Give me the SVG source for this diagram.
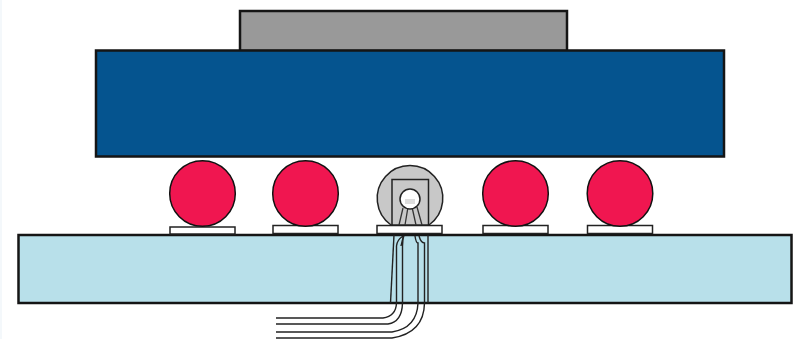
<svg xmlns="http://www.w3.org/2000/svg" width="797" height="339" viewBox="0 0 797 339">
<style>
.ball{fill:#f01650;stroke:#111;stroke-width:1.5}
.pad{fill:#fff;stroke:#222;stroke-width:1.5}
.wire{fill:none;stroke:#222;stroke-width:1.4}
</style>
<rect width="797" height="339" fill="#fff"/>
<rect x="0" y="0" width="2" height="339" fill="#f4f8fb"/>
<g id="die"><rect x="240" y="11" width="327" height="40" fill="#999" stroke="#151515" stroke-width="2.5"/></g>
<g id="substrate"><rect x="96" y="50.500" width="628" height="106" fill="#05548f" stroke="#151515" stroke-width="2.500"/></g>
<g id="board"><rect x="18.500" y="235" width="773" height="68" fill="#b8e0ea" stroke="#151515" stroke-width="2.500"/></g>
<g id="pad1"><rect x="170" y="227" width="65" height="7" class="pad"/></g>
<g id="pad2"><rect x="273" y="225.500" width="65" height="8" class="pad"/></g>
<g id="pad3"><rect x="377" y="225.500" width="65" height="8" class="pad"/></g>
<g id="pad4"><rect x="483" y="225.500" width="65" height="8" class="pad"/></g>
<g id="pad5"><rect x="587.500" y="225.500" width="65" height="8" class="pad"/></g>
<g id="ball1"><circle cx="202.500" cy="193.500" r="32.800" class="ball"/></g>
<g id="ball2"><circle cx="305.500" cy="193.500" r="32.800" class="ball"/></g>
<g id="ball3">
<path d="M391 225A32.800 32.800 0 1 1 429 225Z" fill="#c8c8c8" stroke="#222" stroke-width="1.500"/>
<path d="M392 225V179.500H428.500V225" fill="none" stroke="#222" stroke-width="1.500"/>
<path d="M403 208L399 225M408 207L405 225M412 207L416 225M417 207L422 225" fill="none" stroke="#333" stroke-width="1.300"/>
<circle cx="410" cy="199" r="10" fill="#fff" stroke="#222" stroke-width="1.500"/>
<rect x="405" y="199" width="10" height="5" fill="#ddd"/>
</g>
<g id="ball4"><circle cx="515.500" cy="193.500" r="32.800" class="ball"/></g>
<g id="ball5"><circle cx="620" cy="193.500" r="32.800" class="ball"/></g>
<g id="connectors">
<path class="wire" d="M394 235L390.500 303"/>
<path class="wire" d="M403 236Q397 240 396.500 246V303Q396 316 383 318H276"/>
<path class="wire" d="M403 236Q403 240 402.500 246V303Q402 322 388 324H276"/>
<path class="wire" d="M404 236Q402 240 401 246"/>
<path class="wire" d="M415 236Q416 243 418 243V303Q417 328 392 332H276"/>
<path class="wire" d="M419 236Q421 243 424.500 243V303Q424 333 392 338H276"/>
<path class="wire" d="M428 235V303"/>
</g>
</svg>
